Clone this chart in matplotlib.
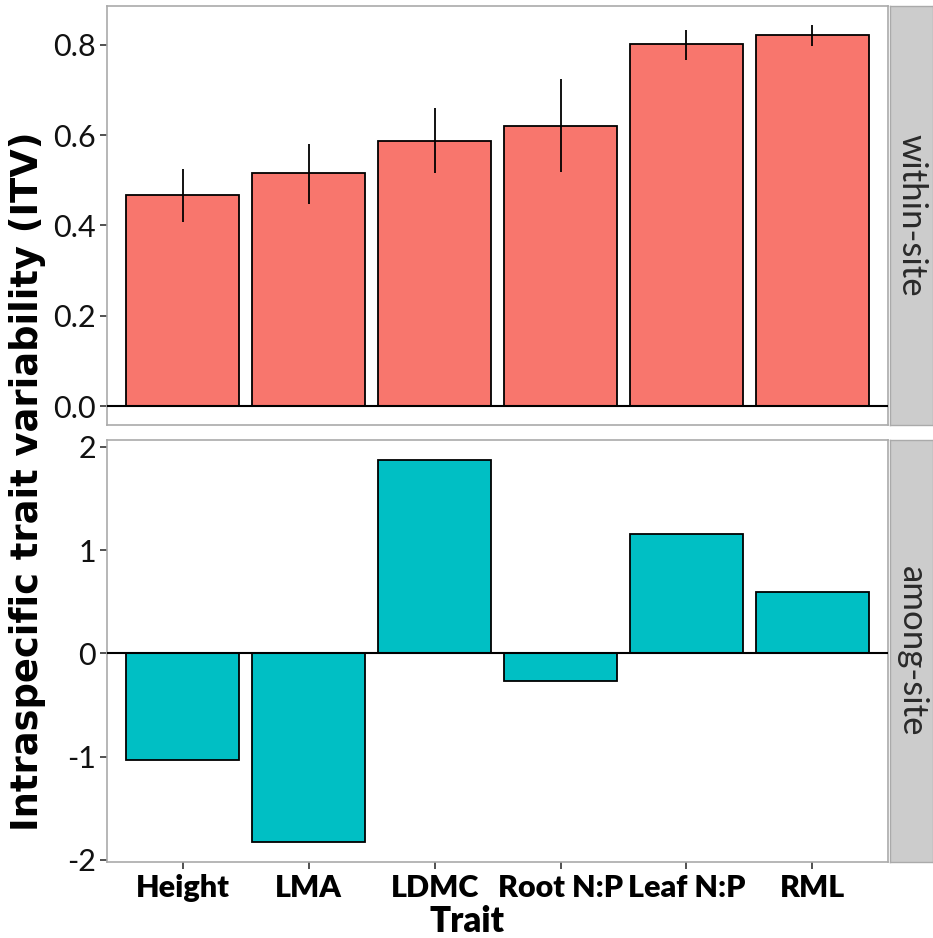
import matplotlib
matplotlib.use("Agg")
import matplotlib.pyplot as plt
import numpy as np

plt.rcParams['font.family'] = ['Lato', 'DejaVu Sans']

traits = ["Height", "LMA", "LDMC", "Root N:P", "Leaf N:P", "RML"]

# within-site ITV with error bar bounds
within_itv = [0.468, 0.516, 0.588, 0.620, 0.801, 0.821]
within_lo = [0.407, 0.447, 0.516, 0.518, 0.767, 0.798]
within_hi = [0.526, 0.580, 0.659, 0.725, 0.833, 0.844]

# among-site ITV
among_itv = [-1.03, -1.83, 1.87, -0.27, 1.16, 0.59]

fill_within = "#F8766D"
fill_among = "#00BFC4"
border_col = "#AAAAAA"
strip_col = "#CCCCCC"

fig = plt.figure(figsize=(9.33, 9.38), dpi=100)
ax_top = fig.add_axes([0.1147, 0.5469, 0.8371, 0.4467])
ax_bot = fig.add_axes([0.1147, 0.0810, 0.8371, 0.4499])

x = np.arange(1, len(traits) + 1)


def style_panel(ax, label):
    for s in ax.spines.values():
        s.set_color(border_col)
        s.set_linewidth(1.2)
    ax.set_xlim(0.4, len(traits) + 0.6)
    ax.tick_params(axis='y', direction='out', length=5, width=1.2, color='#333333',
                   labelsize=22, labelcolor='#111111', pad=3)
    ax.tick_params(axis='x', direction='out', length=5, width=1.2, color='#333333')
    ax.axhline(0, color='black', lw=1.5, zorder=3)
    pos = ax.get_position()
    strip = fig.add_axes([pos.x1 + 0.0021, pos.y0, 0.0461, pos.height])
    strip.set_facecolor(strip_col)
    strip.set_xticks([])
    strip.set_yticks([])
    for s in strip.spines.values():
        s.set_color(border_col)
        s.set_linewidth(1.0)
    strip.text(0.5, 0.5, label, rotation=-90, ha='center', va='center',
               fontsize=25, color='#2a2a2a', fontweight='normal',
               transform=strip.transAxes)


# top panel: within-site
ax_top.bar(x, within_itv, width=0.9, color=fill_within, edgecolor='black', linewidth=1.3, zorder=2)
yerr = [np.array(within_itv) - np.array(within_lo), np.array(within_hi) - np.array(within_itv)]
ax_top.errorbar(x, within_itv, yerr=yerr, fmt='none', ecolor='black', elinewidth=1.3, capsize=0, zorder=4)
ax_top.set_ylim(-0.042, 0.886)
ax_top.set_yticks([0.0, 0.2, 0.4, 0.6, 0.8])
ax_top.set_yticklabels(["0.0", "0.2", "0.4", "0.6", "0.8"])
ax_top.set_xticks(x)
ax_top.tick_params(axis='x', bottom=False, labelbottom=False)
style_panel(ax_top, "within-site")

# bottom panel: among-site
ax_bot.bar(x, among_itv, width=0.9, color=fill_among, edgecolor='black', linewidth=1.3, zorder=2)
ax_bot.set_ylim(-2.02, 2.065)
ax_bot.set_yticks([-2, -1, 0, 1, 2])
ax_bot.set_yticklabels(["-2", "-1", "0", "1", "2"])
ax_bot.set_xticks(x)
ax_bot.set_xticklabels(traits, fontsize=22, fontweight='heavy', color='black')
style_panel(ax_bot, "among-site")

fig.text(0.5, 0.018, "Trait", ha='center', va='center', fontsize=25, fontweight='heavy')
fig.text(0.03, 0.487, "Intraspecific trait variability (ITV)", rotation=90,
         ha='center', va='center', fontsize=26.5, fontweight='bold',
         family=['DejaVu Sans'])

fig.savefig("out.png", dpi=100)
